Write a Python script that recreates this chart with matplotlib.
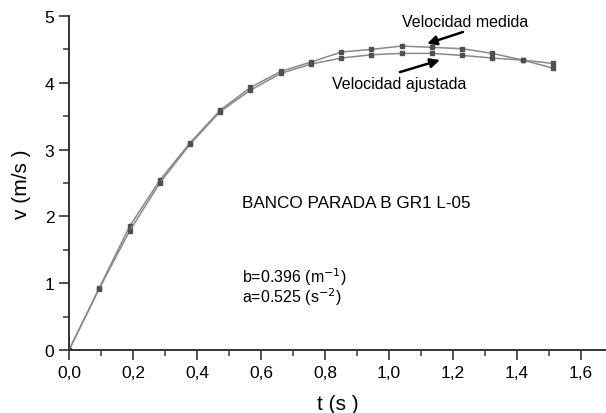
import matplotlib.pyplot as plt
from matplotlib.ticker import MultipleLocator, FuncFormatter

# --- datos ---
t = [0.0, 0.0945, 0.189, 0.2835, 0.378, 0.4725, 0.567, 0.6615, 0.756,
     0.8505, 0.945, 1.0395, 1.134, 1.2285, 1.323, 1.4175, 1.512]
v_medida = [0.0, 0.93, 1.85, 2.54, 3.10, 3.59, 3.93, 4.17, 4.31,
            4.46, 4.50, 4.55, 4.53, 4.51, 4.44, 4.34, 4.22]
v_ajustada = [0.0, 0.92, 1.78, 2.50, 3.08, 3.57, 3.89, 4.14, 4.28,
              4.37, 4.42, 4.44, 4.44, 4.41, 4.37, 4.34, 4.29]

plt.rcParams['font.family'] = ['Liberation Sans', 'DejaVu Sans']

fig = plt.figure(figsize=(6.06, 4.14), dpi=100)
ax = fig.add_axes([0.1139, 0.152, 0.8861, 0.807])

ax.plot(t, v_medida, color='#8a8a8a', lw=1.1, marker='s', ms=3.5,
        mfc='#505050', mec='#505050')
ax.plot(t, v_ajustada, color='#8a8a8a', lw=1.1, marker='s', ms=3.5,
        mfc='#505050', mec='#505050')

ax.set_xlim(0, 1.678)
ax.set_ylim(0, 5)
ax.spines['top'].set_visible(False)
ax.spines['right'].set_visible(False)
for s in ['left', 'bottom']:
    ax.spines[s].set_linewidth(1.4)
    ax.spines[s].set_color('#333333')

ax.xaxis.set_major_locator(MultipleLocator(0.2))
ax.xaxis.set_minor_locator(MultipleLocator(0.1))
ax.yaxis.set_major_locator(MultipleLocator(1))
ax.yaxis.set_minor_locator(MultipleLocator(0.5))
ax.xaxis.set_major_formatter(FuncFormatter(lambda x, p: f"{x:.1f}".replace('.', ',')))
ax.tick_params(which='major', direction='out', length=7, width=1.2,
               color='#333333', labelsize=12.5)
ax.tick_params(which='minor', direction='out', length=4, width=1.1, color='#333333')

ax.set_xlabel("t (s )", fontsize=15, labelpad=10)
ax.set_ylabel("v (m/s )", fontsize=15, labelpad=10)

ax.text(0.54, 2.21, "BANCO PARADA B GR1 L-05", fontsize=12.3, va='center')
ax.text(0.54, 1.11, "b=0.396 (m$^{-1}$)", fontsize=11.5, va='center')
ax.text(0.54, 0.81, "a=0.525 (s$^{-2}$)", fontsize=11.5, va='center')

# etiquetas y flechas
ax.text(1.2375, 4.91, "Velocidad medida", ha='center', va='center', fontsize=11.5)
ax.text(1.031, 3.99, "Velocidad ajustada", ha='center', va='center', fontsize=11.5)
flecha = dict(arrowstyle='-|>', color='black', lw=1.8, shrinkA=0, shrinkB=0,
              mutation_scale=14)
ax.annotate("", xy=(1.119, 4.585), xytext=(1.231, 4.76), arrowprops=flecha)
ax.annotate("", xy=(1.159, 4.34), xytext=(1.034, 4.16), arrowprops=flecha)

fig.savefig("out.png", dpi=100)
